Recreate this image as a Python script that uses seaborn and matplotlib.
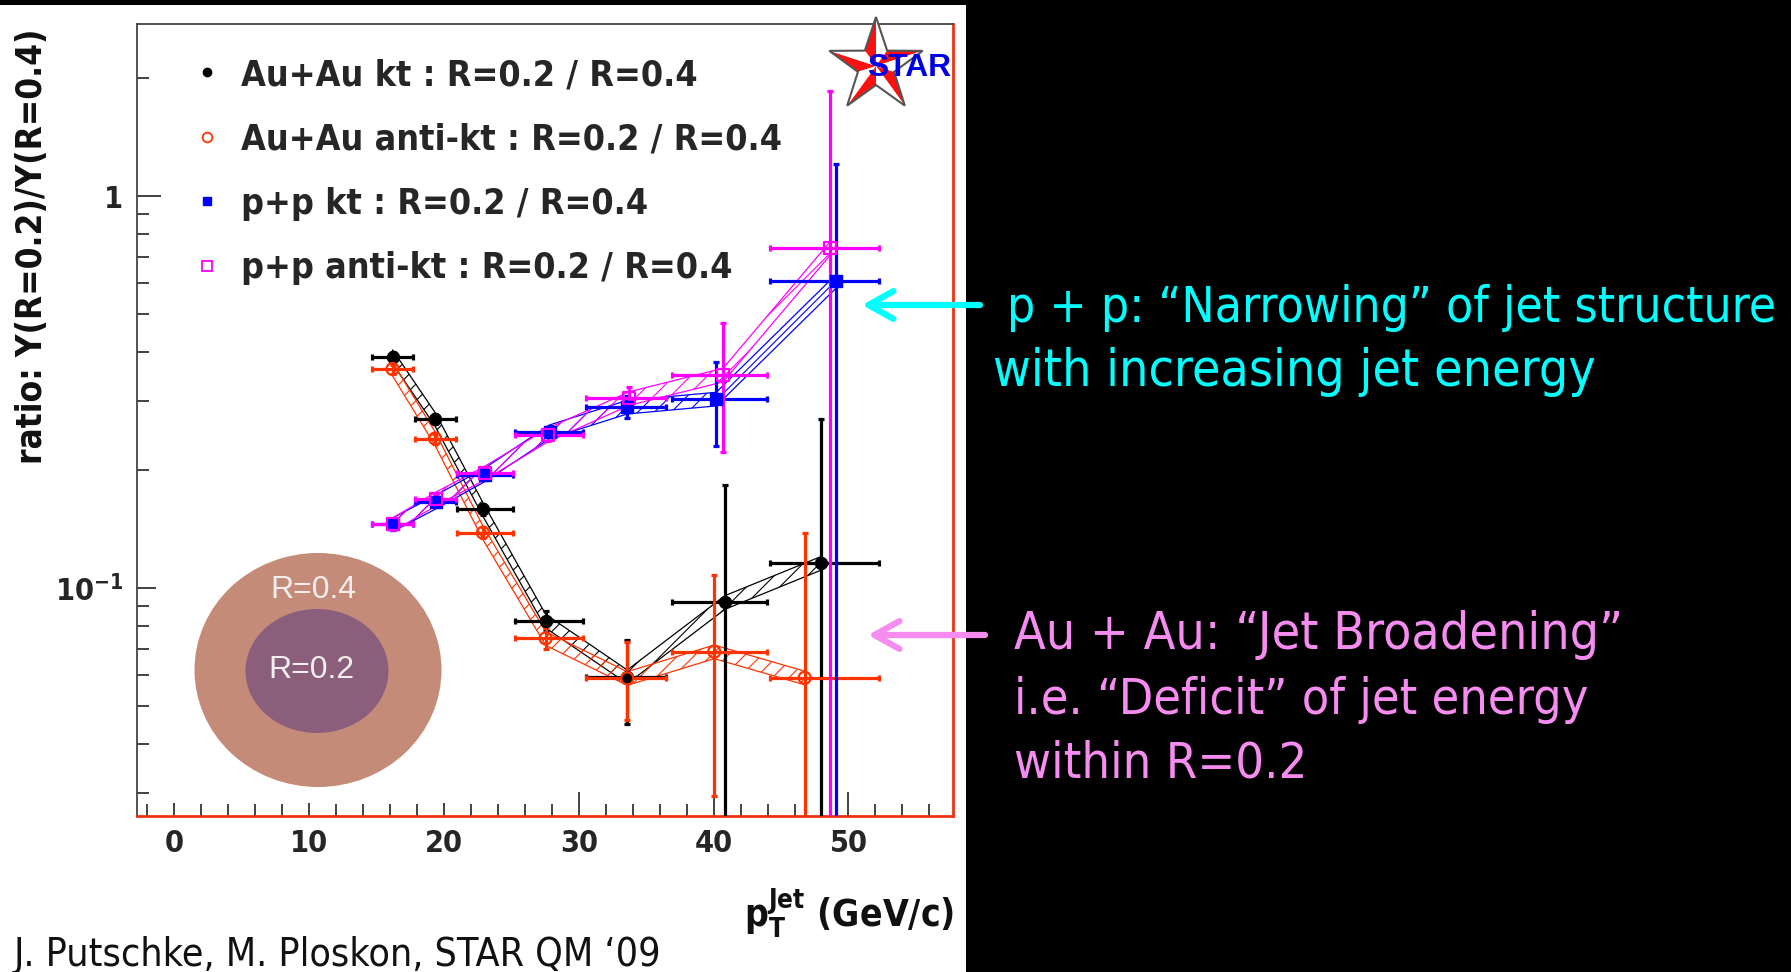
import os
import numpy as np
import matplotlib
matplotlib.use("Agg")
import matplotlib.pyplot as plt
import seaborn as sns
from matplotlib import font_manager
from matplotlib.font_manager import FontEntry
from matplotlib.patches import Rectangle, Ellipse, Polygon, FancyArrowPatch
from matplotlib.lines import Line2D
from matplotlib.ticker import MultipleLocator, LogLocator, NullFormatter

# ---------------- data ----------------
# jet pT bins (GeV/c)
bin_lo = [14.7, 17.85, 21.0, 25.25, 30.55, 36.9, 44.2]
bin_hi = [17.7, 20.9, 25.1, 30.3, 36.5, 43.95, 52.3]

# Au+Au kt : R=0.2 / R=0.4
auau_kt_pt = [16.2, 19.35, 22.9, 27.55, 33.6, 40.85, 47.95]
auau_kt_ratio = [0.390, 0.270, 0.159, 0.0825, 0.0595, 0.0921, 0.1158]
auau_kt_lo = [0.380, 0.262, 0.154, 0.0777, 0.0451, 0.005, 0.005]
auau_kt_hi = [0.400, 0.278, 0.164, 0.0876, 0.0738, 0.183, 0.270]

# Au+Au anti-kt : R=0.2 / R=0.4
auau_akt_pt = [16.2, 19.35, 22.9, 27.55, 33.6, 40.05, 46.75]
auau_akt_ratio = [0.3625, 0.241, 0.1386, 0.0745, 0.0589, 0.0689, 0.0591]
auau_akt_lo = [0.353, 0.234, 0.134, 0.0700, 0.0461, 0.0295, 0.005]
auau_akt_hi = [0.372, 0.248, 0.143, 0.0790, 0.0731, 0.108, 0.138]

# p+p kt : R=0.2 / R=0.4
pp_kt_pt = [16.25, 19.4, 23.05, 27.85, 33.6, 40.2, 49.1]
pp_kt_ratio = [0.1456, 0.166, 0.195, 0.251, 0.290, 0.304, 0.608]
pp_kt_lo = [0.141, 0.161, 0.189, 0.243, 0.272, 0.230, 0.005]
pp_kt_hi = [0.150, 0.171, 0.201, 0.259, 0.310, 0.378, 1.207]

# p+p anti-kt : R=0.2 / R=0.4
pp_akt_pt = [16.25, 19.4, 23.05, 27.7, 33.75, 40.7, 48.65]
pp_akt_ratio = [0.1456, 0.169, 0.197, 0.246, 0.305, 0.350, 0.737]
pp_akt_lo = [0.141, 0.164, 0.191, 0.238, 0.285, 0.222, 0.005]
pp_akt_hi = [0.150, 0.174, 0.203, 0.254, 0.327, 0.475, 1.850]

series_labels = [
    "Au+Au kt : R=0.2 / R=0.4",
    "Au+Au anti-kt : R=0.2 / R=0.4",
    "p+p kt : R=0.2 / R=0.4",
    "p+p anti-kt : R=0.2 / R=0.4",
]
x_tick_values = [0, 10, 20, 30, 40, 50]
x_tick_labels = ["0", "10", "20", "30", "40", "50"]
y_tick_values = [0.1, 1.0]
y_tick_labels = [r"$\mathbf{10^{-1}}$", "1"]

# relative half-width of the hatched systematic bands
band_rel = 0.04

# ---------------- fonts ----------------
def pick_face(bold):
    best = None
    for f in font_manager.fontManager.ttflist:
        fn = os.path.basename(f.fname).lower()
        if not ("narrow" in fn or "condensed" in fn):
            continue
        if "sans" not in fn or "mono" in fn:
            continue
        if any(s in fn for s in ("italic", "oblique", "light", "thin", "medium",
                                 "black", "semi", "extra", "ultra")):
            continue
        if ("bold" in fn) != bold:
            continue
        rank = 0 if "liberation" in fn else (1 if "dejavu" in fn else 2)
        if best is None or rank < best[0]:
            best = (rank, f.fname)
    return best[1] if best else None


sns.set_style("white")
reg_face, bold_face = pick_face(False), pick_face(True)
if reg_face and bold_face:
    for path, wt in [(reg_face, 400), (bold_face, 700)]:
        font_manager.fontManager.ttflist.append(
            FontEntry(fname=path, name="SlideNarrow", style="normal", variant="normal",
                      weight=wt, stretch="normal", size="scalable"))
    NARROW = "SlideNarrow"
else:
    NARROW = "Liberation Sans"

plt.rcParams["font.family"] = [NARROW, "DejaVu Sans"]
plt.rcParams["mathtext.fontset"] = "custom"
plt.rcParams["mathtext.rm"] = NARROW
plt.rcParams["mathtext.bf"] = NARROW + ":bold"
plt.rcParams["mathtext.it"] = NARROW
plt.rcParams["hatch.linewidth"] = 0.8

W, H = 1791, 972
fig = plt.figure(figsize=(W / 100, H / 100), dpi=100, facecolor="black")
renderer = fig.canvas.get_renderer()


def fx(px):
    return px / W


def fy(py):
    return 1 - py / H


def fit_size(s, target, weight="normal", family=None):
    """Font size (pt) at which string s spans target pixels."""
    t = fig.text(0, 0, s, fontsize=30, fontweight=weight,
                 family=family if family else [NARROW, "DejaVu Sans"])
    bb = t.get_window_extent(renderer)
    t.remove()
    return 30 * target / bb.width


# white slide panel behind the plot
fig.add_artist(Rectangle((0, 0), fx(966), fy(5), transform=fig.transFigure,
                         facecolor="white", edgecolor="none", zorder=-5))

ax = fig.add_axes([fx(137), fy(816), fx(953) - fx(137), fy(24) - fy(816)])
ax.set_facecolor("white")
ax.set_yscale("log")
ax.set_xlim(-2.75, 57.75)
ax.set_ylim(0.02625, 2.75)

series = [
    (auau_kt_pt, auau_kt_ratio, auau_kt_lo, auau_kt_hi, "black", "o", True),
    (auau_akt_pt, auau_akt_ratio, auau_akt_lo, auau_akt_hi, "#FF3300", "o", False),
    (pp_kt_pt, pp_kt_ratio, pp_kt_lo, pp_kt_hi, "#0000FF", "s", True),
    (pp_akt_pt, pp_akt_ratio, pp_akt_lo, pp_akt_hi, "#FF00FF", "s", False),
]

for pt, r, lo, hi, col, mk, filled in series:
    pt = np.asarray(pt)
    r = np.asarray(r)
    lo = np.asarray(lo)
    hi = np.asarray(hi)
    # hatched systematic band joining the points
    ax.fill_between(pt, r * (1 - band_rel), r * (1 + band_rel), facecolor="none",
                    edgecolor=col, hatch="//", linewidth=0.9, zorder=2)
    # statistical errors and bin widths
    xerr = [pt - np.asarray(bin_lo), np.asarray(bin_hi) - pt]
    yerr = [r - lo, hi - r]
    ax.errorbar(pt, r, xerr=xerr, yerr=yerr, fmt="none", ecolor=col,
                elinewidth=2.3, capsize=2.5, capthick=2.3, zorder=3)

for pt, r, lo, hi, col, mk, filled in series:
    if filled:
        sns.scatterplot(x=pt, y=r, ax=ax, marker=mk, s=75, color=col,
                        edgecolor=col, linewidth=1.0, zorder=5, legend=False)
    else:
        sns.scatterplot(x=pt, y=r, ax=ax, marker=mk, s=75, facecolor="none",
                        edgecolor=col, linewidth=1.6, zorder=5, legend=False)

# ---------------- axes ----------------
for side in ["top", "left"]:
    ax.spines[side].set_color("#444444")
    ax.spines[side].set_linewidth(1.3)
for side in ["right", "bottom"]:
    ax.spines[side].set_color("#EE3311")
    ax.spines[side].set_linewidth(2.0)

tick_size = fit_size("10", 38, weight="bold")
ax.set_xticks(x_tick_values, labels=x_tick_labels, fontsize=tick_size, fontweight="bold")
ax.set_yticks(y_tick_values, labels=y_tick_labels, fontsize=tick_size, fontweight="bold")
ax.xaxis.set_minor_locator(MultipleLocator(2))
ax.yaxis.set_minor_locator(LogLocator(base=10, subs=np.arange(2, 10)))
ax.yaxis.set_minor_formatter(NullFormatter())

ax.tick_params(axis="both", which="major", direction="in", length=17, width=1.2,
               color="#222222", top=False, right=False, bottom=True, left=True)
ax.tick_params(axis="both", which="minor", direction="in", length=8.6, width=1.2,
               color="#222222", top=False, right=False, bottom=True, left=True)
ax.tick_params(axis="x", which="major", pad=9)
ax.tick_params(axis="y", which="major", pad=10)
ax.set_xlabel("")
ax.set_ylabel("")

# legend
leg_size = fit_size(series_labels[1], 541, weight="bold")
leg_px = leg_size * 100 / 72
handles = [
    Line2D([], [], linestyle="none", marker="o", markersize=6, color="black"),
    Line2D([], [], linestyle="none", marker="o", markersize=7, markerfacecolor="none",
           markeredgecolor="#FF3300", markeredgewidth=1.3),
    Line2D([], [], linestyle="none", marker="s", markersize=6, color="#0000FF"),
    Line2D([], [], linestyle="none", marker="s", markersize=7, markerfacecolor="none",
           markeredgecolor="#FF00FF", markeredgewidth=1.3),
]
leg = ax.legend(handles, series_labels, loc="upper left",
                bbox_to_anchor=((195 - 137) / 816, (816 - 58) / 792),
                frameon=False, borderpad=0, borderaxespad=0,
                handlelength=24 / leg_px, handletextpad=22 / leg_px,
                labelspacing=(63.2 - 0.917 * leg_px) / leg_px,
                prop={"family": [NARROW, "DejaVu Sans"], "weight": "bold", "size": leg_size})

# axis titles
ylab = "ratio: Y(R=0.2)/Y(R=0.4)"
fig.text(fx(32), fy(246), ylab, rotation=90, ha="center", va="center",
         fontsize=fit_size(ylab, 434, weight="bold"), fontweight="bold", color="#111111")
xlab = r"$\mathbf{p}_{\mathbf{T}}^{\mathbf{Jet}}$ (GeV/c)"
fig.text(fx(954), fy(914), xlab, ha="right", va="center",
         fontsize=fit_size(xlab, 210, weight="bold"), fontweight="bold", color="#111111")

# jet-cone sketch (white backdrop hides the ticks beneath it)
fig.add_artist(Rectangle((fx(156), fy(803)), fx(462) - fx(156), fy(540) - fy(803),
                         transform=fig.transFigure, facecolor="white", edgecolor="none", zorder=3))
fig.add_artist(Ellipse((fx(318), fy(670)), 247 / W, 234 / H, transform=fig.transFigure,
                       facecolor="#C48B78", edgecolor="none", zorder=4))
fig.add_artist(Ellipse((fx(317), fy(671)), 143 / W, 124 / H, transform=fig.transFigure,
                       facecolor="#8B5E7C", edgecolor="none", zorder=4))
fig.text(fx(313), fy(590), "R=0.4", ha="center", va="center", fontsize=23,
         family="Liberation Sans", color="#F4EEEE", zorder=5)
fig.text(fx(311), fy(670), "R=0.2", ha="center", va="center", fontsize=23,
         family="Liberation Sans", color="#F4EEEE", zorder=5)

# STAR logo
cx, cy, R, r_in = 876, 66, 49, 19
tips = []
inner = []
for k in range(5):
    a = np.deg2rad(90 + 72 * k)
    b = np.deg2rad(90 + 72 * k + 36)
    tips.append((cx + R * np.cos(a), cy - R * np.sin(a)))
    inner.append((cx + r_in * np.cos(b), cy - r_in * np.sin(b)))
for k in range(5):
    tri_a = [(cx, cy), tips[k], inner[k]]
    tri_b = [(cx, cy), tips[k], inner[k - 1]]
    for tri, fc in [(tri_a, "#FF1010"), (tri_b, "white")]:
        fig.add_artist(Polygon([(fx(p[0]), fy(p[1])) for p in tri], closed=True,
                               transform=fig.transFigure, facecolor=fc, edgecolor="none",
                               zorder=6))
outline = []
for k in range(5):
    outline.append(tips[k])
    outline.append(inner[k])
fig.add_artist(Polygon([(fx(p[0]), fy(p[1])) for p in outline], closed=True,
                       transform=fig.transFigure, facecolor="none", edgecolor="#555555",
                       linewidth=1.5, zorder=7))
fig.text(fx(909), fy(68), "STAR", ha="center", va="center",
         fontsize=fit_size("STAR", 84, weight="bold", family="Liberation Sans"),
         family="Liberation Sans", fontweight="bold", color="#0000E6", zorder=8)

# annotations on the dark side
notes = [
    ("p + p: \u201cNarrowing\u201d of jet structure", 1007, 308, 770, "#00FFFF"),
    ("with increasing jet energy", 993, 372, 601, "#00FFFF"),
    ("Au + Au: \u201cJet Broadening\u201d", 1014, 635, 609, "#F68CF0"),
    ("i.e. \u201cDeficit\u201d of jet energy", 1014, 700, 574, "#F68CF0"),
    ("within R=0.2", 1014, 763, 293, "#F68CF0"),
]
for s, x0, y0, w, col in notes:
    fig.text(fx(x0), fy(y0), s, ha="left", va="center", fontsize=fit_size(s, w), color=col)

for (x0, y0, x1, col) in [(980, 305, 862, "#00FFFF"), (985, 635, 868, "#F68CF0")]:
    fig.add_artist(FancyArrowPatch((fx(x0), fy(y0)), (fx(x1), fy(y0)),
                                   transform=fig.transFigure,
                                   arrowstyle="->,head_length=0.9,head_width=0.5",
                                   mutation_scale=20, linewidth=4.5, color=col,
                                   shrinkA=0, shrinkB=0,
                                   capstyle="round", joinstyle="round", zorder=9))

foot = "J. Putschke, M. Ploskon, STAR QM \u201809"
fig.text(fx(14), fy(955), foot, ha="left", va="center",
         fontsize=fit_size(foot, 647), color="#111111")

fig.savefig("out.png", dpi=100, facecolor="black")
